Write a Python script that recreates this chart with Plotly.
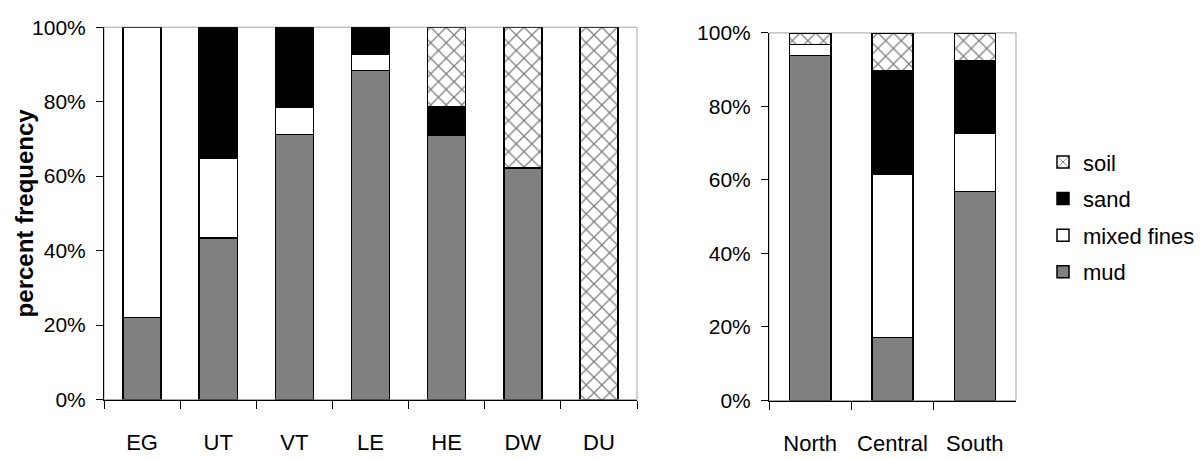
import plotly.graph_objects as go

# ---- data (percent frequency) ----
sites = ["EG", "UT", "VT", "LE", "HE", "DW", "DU"]
mud_site = [22.0, 43.4, 71.2, 88.4, 70.9, 62.2, None]
mixed_site = [78.0, 21.4, 7.2, 4.3, None, None, None]
sand_site = [None, 35.2, 21.6, 7.3, 7.8, None, None]
soil_site = [None, None, None, None, 21.3, 37.8, 100.0]

regions = ["North", "Central", "South"]
mud_region = [93.8, 17.2, 56.9]
mixed_region = [3.1, 44.4, 15.9]
sand_region = [None, 28.2, 19.6]
soil_region = [3.1, 10.2, 7.6]

y_ticks = [0, 20, 40, 60, 80, 100]
y_tick_labels = ["0%", "20%", "40%", "60%", "80%", "100%"]
series_names = ["mud", "mixed fines", "sand", "soil"]
legend_ranks = {"soil": 1, "sand": 2, "mixed fines": 3, "mud": 4}

FONT = "Liberation Sans, Arial, sans-serif"
W, H = 1201, 459

styles = {
    "mud": dict(color="#808080"),
    "mixed fines": dict(color="#ffffff"),
    "sand": dict(color="#000000"),
    "soil": dict(color="#ffffff",
                 pattern=dict(shape="x", fgcolor="#000000", bgcolor="#ffffff",
                              size=11, solidity=0.22)),
}

fig = go.Figure()

left = dict(zip(series_names, [mud_site, mixed_site, sand_site, soil_site]))
right = dict(zip(series_names, [mud_region, mixed_region, sand_region, soil_region]))

for name in series_names:
    fig.add_trace(go.Bar(
        x=sites, y=left[name], name=name, legendgroup=name, showlegend=True,
        legendrank=legend_ranks[name],
        marker=dict(**styles[name], line=dict(color="#000000", width=1.5)),
        xaxis="x", yaxis="y", hoverinfo="x+y+name",
    ))
for name in series_names:
    fig.add_trace(go.Bar(
        x=regions, y=right[name], name=name, legendgroup=name, showlegend=False,
        legendrank=legend_ranks[name],
        marker=dict(**styles[name], line=dict(color="#000000", width=1.5)),
        xaxis="x2", yaxis="y2", hoverinfo="x+y+name",
    ))

def px_x(a, b):
    return [a / W, b / W]

def px_y(top, bottom):
    return [(H - bottom) / H, (H - top) / H]

xcommon = dict(type="category", showline=True, linecolor="#000000", linewidth=1,
               ticks="outside", tickson="boundaries", ticklen=8, tickcolor="#000000",
               tickfont=dict(family=FONT, size=22, color="#000000"),
               ticklabelstandoff=23, showgrid=False, zeroline=False, fixedrange=True)
ycommon = dict(range=[0, 100], tickmode="array", tickvals=y_ticks, ticktext=y_tick_labels,
               showline=True, linecolor="#000000", linewidth=1, ticks="outside", ticklen=7,
               tickcolor="#000000", tickfont=dict(family=FONT, size=21, color="#000000"),
               ticklabelstandoff=6, showgrid=False, zeroline=False, fixedrange=True)

fig.update_layout(
    width=W, height=H,
    margin=dict(l=0, r=0, t=0, b=0),
    paper_bgcolor="#ffffff", plot_bgcolor="#ffffff",
    barmode="stack", bargap=0.5,
    font=dict(family=FONT, color="#000000"),
    xaxis=dict(domain=px_x(104, 637), anchor="y", **xcommon),
    yaxis=dict(domain=px_y(16, 408), anchor="x", **ycommon),
    xaxis2=dict(domain=px_x(769, 1016), anchor="y2", **xcommon),
    yaxis2=dict(domain=px_y(22, 409), anchor="x2", **ycommon),
    legend=dict(x=1043 / W, y=(H - 216) / H, xanchor="left", yanchor="middle",
                traceorder="grouped", tracegroupgap=5,
                font=dict(family=FONT, size=22, color="#000000"),
                bgcolor="rgba(0,0,0,0)", itemclick=False, itemdoubleclick=False),
    showlegend=True,
    annotations=[dict(text="<b>percent frequency</b>", textangle=-90,
                      x=24 / W, y=(H - 212) / H, xref="paper", yref="paper",
                      xanchor="center", yanchor="middle", showarrow=False,
                      font=dict(family=FONT, size=24, color="#000000"))],
    shapes=[
        dict(type="rect", xref="x domain", yref="y domain", x0=0, x1=1, y0=0, y1=1,
             line=dict(color="#a6a6a6", width=1), layer="below"),
        dict(type="rect", xref="x2 domain", yref="y2 domain", x0=0, x1=1, y0=0, y1=1,
             line=dict(color="#a6a6a6", width=1), layer="below"),
    ],
)

fig.write_html("out.html")
